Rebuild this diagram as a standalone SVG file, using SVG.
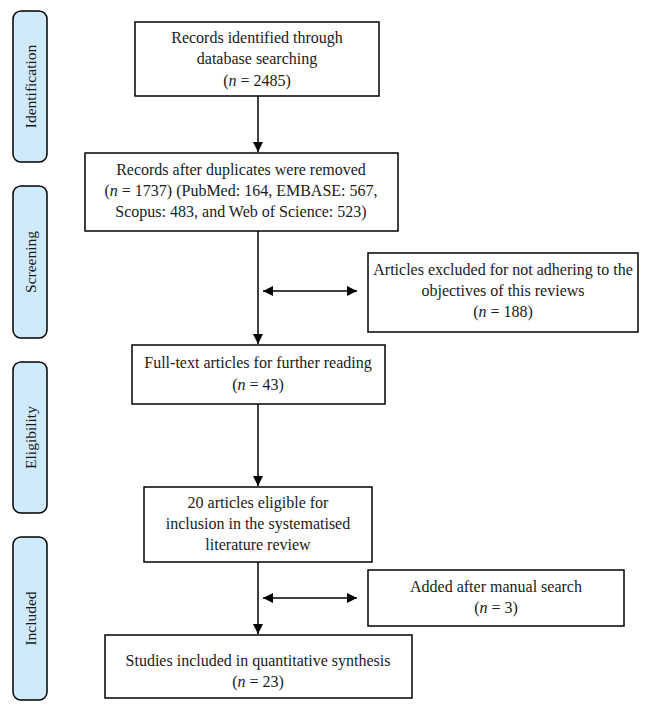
<svg xmlns="http://www.w3.org/2000/svg" width="650" height="710" viewBox="0 0 650 710">
<style>
.box{fill:#fff;stroke:#000;stroke-width:1.5}
.side{fill:#cfeafb;stroke:#000;stroke-width:1.5}
text{font-family:"Liberation Serif","Times New Roman",serif;font-size:16px;fill:#1a1a1a;text-anchor:middle}
.side+text{font-size:15.5px}
.ln{stroke:#000;stroke-width:1.5;fill:none}
.i{font-style:italic}
</style>
<defs>
<marker id="ah" viewBox="0 0 10 10" refX="10" refY="5" markerWidth="10" markerHeight="10" markerUnits="userSpaceOnUse" orient="auto-start-reverse">
<path d="M0,0 L10,5 L0,10 z" fill="#000"/>
</marker>
</defs>
<rect width="650" height="710" fill="#fff"/>
<g id="stage-identification"><rect class="side" x="13" y="11" width="34" height="151" rx="8"/><text transform="translate(36,86.5) rotate(-90)">Identification</text></g>
<g id="stage-screening"><rect class="side" x="13" y="186" width="34" height="152" rx="8"/><text transform="translate(36,262) rotate(-90)">Screening</text></g>
<g id="stage-eligibility"><rect class="side" x="13" y="362" width="34" height="151" rx="8"/><text transform="translate(36,437.5) rotate(-90)">Eligibility</text></g>
<g id="stage-included"><rect class="side" x="13" y="537" width="34" height="163" rx="8"/><text transform="translate(36,618.5) rotate(-90)">Included</text></g>
<g id="connectors">
<line class="ln" x1="258" y1="96" x2="258" y2="152" marker-end="url(#ah)"/>
<line class="ln" x1="258" y1="231" x2="258" y2="344" marker-end="url(#ah)"/>
<line class="ln" x1="263" y1="291" x2="357" y2="291" marker-start="url(#ah)" marker-end="url(#ah)"/>
<line class="ln" x1="258" y1="404" x2="258" y2="486" marker-end="url(#ah)"/>
<line class="ln" x1="258" y1="562" x2="258" y2="634" marker-end="url(#ah)"/>
<line class="ln" x1="263" y1="598" x2="357" y2="598" marker-start="url(#ah)" marker-end="url(#ah)"/>
</g>
<g id="n1"><rect class="box" x="135" y="22" width="244" height="74"/>
<text x="257" y="43">Records identified through</text>
<text x="257" y="64">database searching</text>
<text x="257" y="86">(<tspan class="i">n</tspan> = 2485)</text></g>
<g id="n2"><rect class="box" x="85" y="153" width="313" height="78"/>
<text x="241" y="175">Records after duplicates were removed</text>
<text x="241" y="196">(<tspan class="i">n</tspan> = 1737) (PubMed: 164, EMBASE: 567,</text>
<text x="241" y="217">Scopus: 483, and Web of Science: 523)</text></g>
<g id="n3"><rect class="box" x="368" y="253" width="270" height="79"/>
<text x="503" y="275">Articles excluded for not adhering to the</text>
<text x="503" y="296">objectives of this reviews</text>
<text x="503" y="317">(<tspan class="i">n</tspan> = 188)</text></g>
<g id="n4"><rect class="box" x="132" y="345" width="253" height="59"/>
<text x="258" y="368">Full-text articles for further reading</text>
<text x="258" y="390">(<tspan class="i">n</tspan> = 43)</text></g>
<g id="n5"><rect class="box" x="144" y="487" width="228" height="75"/>
<text x="258" y="508">20 articles eligible for</text>
<text x="258" y="529">inclusion in the systematised</text>
<text x="258" y="550">literature review</text></g>
<g id="n6"><rect class="box" x="368" y="570" width="256" height="56"/>
<text x="496" y="592">Added after manual search</text>
<text x="496" y="613">(<tspan class="i">n</tspan> = 3)</text></g>
<g id="n7"><rect class="box" x="105" y="635" width="307" height="63"/>
<text x="258" y="666">Studies included in quantitative synthesis</text>
<text x="258" y="687">(<tspan class="i">n</tspan> = 23)</text></g>
</svg>
